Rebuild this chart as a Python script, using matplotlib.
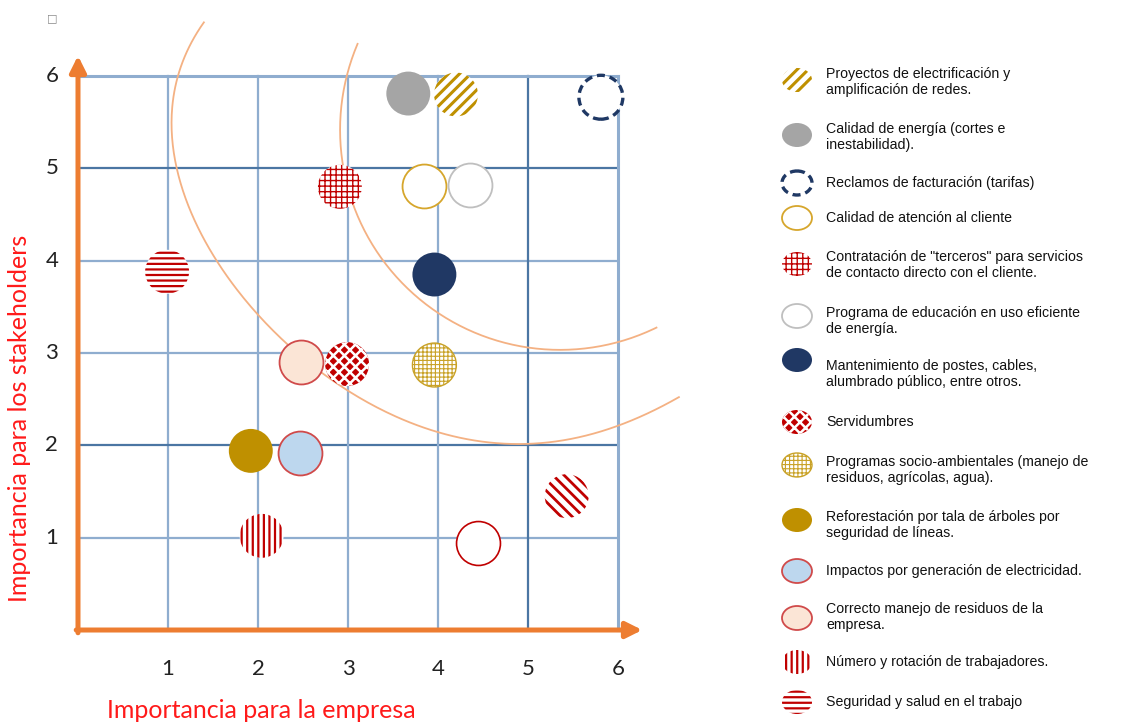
import numpy as np
import matplotlib.pyplot as plt
from matplotlib.patches import Ellipse

'''
Data:
'''
temas = [
    "Proyectos de electrificación y\namplificación de redes.",
    "Calidad de energía (cortes e\ninestabilidad).",
    "Reclamos de facturación (tarifas)",
    "Calidad de atención al cliente",
    "Contratación de \"terceros\" para servicios\nde contacto directo con el cliente.",
    "Programa de educación en uso eficiente\nde energía.",
    "Mantenimiento de postes, cables,\nalumbrado público, entre otros.",
    "Servidumbres",
    "Programas socio-ambientales (manejo de\nresiduos, agrícolas, agua).",
    "Reforestación por tala de árboles por\nseguridad de líneas.",
    "Impactos por generación de electricidad.",
    "Correcto manejo de residuos de la\nempresa.",
    "Número y rotación de trabajadores.",
    "Seguridad y salud en el trabajo",
    "",   # circulo rojo sin leyenda
    "",   # rayado rojo sin leyenda
]
imp_empresa = [4.20, 3.67, 5.81, 3.84, 2.91, 4.36, 3.96, 2.99, 3.96, 1.92, 2.47, 2.48, 2.04, 0.99, 4.44, 5.43]
imp_stakeholders = [5.80, 5.81, 5.77, 4.81, 4.80, 4.82, 3.85, 2.88, 2.87, 1.94, 1.92, 2.90, 1.02, 3.88, 0.94, 1.45]
ticks = [1, 2, 3, 4, 5, 6]

# guide points of the outer priority curve (data units)
curva_x = [1.41, 1.01, 1.54, 2.00, 2.36, 3.58, 5.06, 6.67]
curva_y = [6.58, 5.56, 4.01, 3.43, 3.11, 2.24, 2.03, 2.52]

'''
Styles:
'''
RED = '#c00000'
GOLD = '#bf9000'
estilos = [
    dict(fc='white', ec=GOLD, lw=0, hatch='///', hlw=2.2),
    dict(fc='#a5a5a5', ec='none', lw=0),
    dict(fc='white', ec='#1f3864', lw=2.4, ls=(0, (2.4, 1.5))),
    dict(fc='white', ec='#d6a62c', lw=1.3),
    dict(fc='white', ec=RED, lw=0, hatch='+++', hlw=1.0),
    dict(fc='white', ec='#bfbfbf', lw=1.3),
    dict(fc='#203864', ec='none', lw=0),
    dict(fc=RED, ec='white', lw=0, hatch='xxx', hlw=1.8),
    dict(fc='white', ec='#c9a227', lw=1.0, hatch='++++', hlw=0.8),
    dict(fc=GOLD, ec='none', lw=0),
    dict(fc='#bdd7ee', ec='#d04a4a', lw=1.3),
    dict(fc='#fbe5d6', ec='#d04a4a', lw=1.3),
    dict(fc='white', ec=RED, lw=0, hatch='|||', hlw=1.6),
    dict(fc='white', ec=RED, lw=0, hatch='---', hlw=1.6),
    dict(fc='white', ec=RED, lw=1.2),
    dict(fc='white', ec=RED, lw=0, hatch='\\\\\\', hlw=2.0),
]

# legend rows (pixels, figure coords from top)
fila_txt = [82, 137, 183, 218, 265, 321, 374, 422, 470, 525, 571, 617, 662, 702]
fila_mk = [80, 135, 183, 218, 264, 316, 360, 422, 465, 520, 571, 618, 662, 702]

ORANGE = '#ed7d31'
ARC = '#f4b183'


def set_hlw(artist, v):
    if v is not None and hasattr(artist, 'set_hatch_linewidth'):
        artist.set_hatch_linewidth(v)


'''
Code:
'''
fig = plt.figure(figsize=(11.25, 7.23), dpi=100)
ax = fig.add_axes([0.04533, 0.0903, 0.576, 0.8812])
ax.set_xlim(-0.3, 6.9)
ax.set_ylim(-0.3, 6.6)
ax.axis('off')

# grid
oscuras_x = [5]
oscuras_y = [2, 5]
for t in ticks:
    c = '#4b76a3' if t in oscuras_x else '#8fadcf'
    ax.plot([t, t], [0, 6], color=c, lw=1.6 if t != 6 else 2.2, zorder=1)
    c = '#4b76a3' if t in oscuras_y else '#8fadcf'
    ax.plot([0, 6], [t, t], color=c, lw=1.6 if t != 6 else 2.2, zorder=1)

# curvas de prioridad
th = np.radians(np.linspace(157, 296, 200))
ax.plot(5.356 + 2.444*np.cos(th), 5.417 + 2.383*np.sin(th), color=ARC, lw=1.3, zorder=2, clip_on=False)

cx = np.array(curva_x)
cy = np.array(curva_y)
s = np.concatenate([[0], np.cumsum(np.hypot(np.diff(cx), np.diff(cy)))])
ss = np.linspace(0, s[-1], 300)
ax.plot(np.polyval(np.polyfit(s, cx, 4), ss), np.polyval(np.polyfit(s, cy, 4), ss),
        color=ARC, lw=1.3, zorder=2, clip_on=False)

# ejes con flecha
ax.annotate('', xy=(0, 6.22), xytext=(0, -0.03),
            arrowprops=dict(arrowstyle='-|>', color=ORANGE, lw=3.6, mutation_scale=24,
                            shrinkA=0, shrinkB=0), zorder=3)
ax.annotate('', xy=(6.27, 0), xytext=(-0.02, 0),
            arrowprops=dict(arrowstyle='-|>', color=ORANGE, lw=3.6, mutation_scale=24,
                            shrinkA=0, shrinkB=0), zorder=3)

for t in ticks:
    ax.text(t, -0.42, str(t), ha='center', va='center', fontsize=16, family='Lato', color='#222222')
    ax.text(-0.29, t, str(t), ha='center', va='center', fontsize=16, family='Lato', color='#222222')

ax.text(2.04, -0.87, 'Importancia para la empresa', ha='center', va='center',
        fontsize=18, family='Lato', color='#ff1a1a')
fig.text(0.017, 0.422, 'Importancia para los stakeholders', rotation=90, ha='center', va='center',
         fontsize=18, family='Lato', color='#ff1a1a')

# temas
for i in range(len(temas)):
    e = estilos[i]
    sc = ax.scatter(imp_empresa[i], imp_stakeholders[i], s=1000, facecolor=e['fc'],
                    edgecolor=e['ec'], linewidths=e['lw'], hatch=e.get('hatch'),
                    linestyle=e.get('ls', 'solid'), zorder=4)
    set_hlw(sc, e.get('hlw'))

# leyenda manual
lg = fig.add_axes([0, 0, 1, 1])
lg.set_xlim(0, 1125)
lg.set_ylim(723, 0)
lg.axis('off')
for k in range(len(fila_txt)):
    e = estilos[k]
    el = Ellipse((797, fila_mk[k]), 30, 24, facecolor=e['fc'], edgecolor=e['ec'],
                 linewidth=e['lw'], hatch=e.get('hatch'), linestyle=e.get('ls', 'solid'))
    set_hlw(el, e.get('hlw'))
    lg.add_patch(el)
    lg.text(826, fila_txt[k], temas[k], ha='left', va='center', fontsize=10.2,
            family='Liberation Sans', color='#111111', linespacing=1.2)

fig.text(0.046, 0.975, '\u25a1', fontsize=8, color='#888888', ha='center', va='center')

fig.savefig('out.png', dpi=100)
